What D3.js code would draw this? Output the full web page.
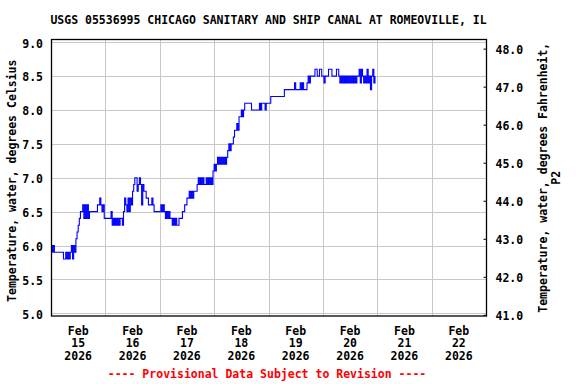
<!DOCTYPE html>
<html>
<head>
<meta charset="utf-8">
<script src="https://cdn.jsdelivr.net/npm/d3@7"></script>
<style>
  html, body { margin: 0; padding: 0; background: #fff; }
  svg { display: block; }
  text { font-family: "DejaVu Sans Mono", "Liberation Mono", monospace; font-weight: bold; font-size: 11.5px; }
</style>
</head>
<body>
<svg id="chart" width="576" height="384"></svg>
<script>
// ---- data ----
const titleText = "USGS 05536995 CHICAGO SANITARY AND SHIP CANAL AT ROMEOVILLE, IL";
const leftAxisTitle = "Temperature, water, degrees Celsius";
const rightAxisTitle = ["Temperature, water, degrees Fahrenheit,", "P2"];
const footerText = "---- Provisional Data Subject to Revision ----";

const seriesStart = "2026-02-15T00:00:00Z";
const stepMinutes = 30;
const tempC = [
  6.0,5.9,6.0,5.9,5.9,5.9,5.9,5.9,5.9,5.9,
  5.9,5.8,5.8,5.9,5.8,5.9,5.8,5.9,6.0,5.8,
  6.0,5.9,6.1,6.2,6.3,6.4,6.5,6.5,6.6,6.4,
  6.6,6.4,6.6,6.4,6.5,6.5,6.5,6.5,6.5,6.5,
  6.5,6.6,6.6,6.7,6.6,6.5,6.6,6.4,6.4,6.4,
  6.4,6.4,6.4,6.5,6.3,6.4,6.3,6.4,6.3,6.4,
  6.3,6.4,6.4,6.3,6.5,6.7,6.6,6.5,6.7,6.5,
  6.7,6.6,6.8,6.9,7.0,7.0,6.8,6.9,7.0,6.9,
  6.6,6.9,6.8,6.8,6.7,6.7,6.6,6.6,6.6,6.7,
  6.6,6.5,6.5,6.5,6.5,6.5,6.5,6.6,6.5,6.6,
  6.5,6.4,6.5,6.4,6.5,6.4,6.4,6.3,6.4,6.3,
  6.4,6.3,6.3,6.4,6.4,6.4,6.5,6.5,6.6,6.6,
  6.7,6.7,6.8,6.7,6.8,6.7,6.8,6.8,6.8,6.9,
  7.0,6.9,7.0,6.9,7.0,6.9,6.9,7.0,6.9,7.0,
  6.9,7.0,6.9,7.1,7.2,7.1,7.2,7.3,7.2,7.3,
  7.2,7.3,7.2,7.3,7.2,7.3,7.4,7.5,7.4,7.5,
  7.5,7.6,7.7,7.7,7.8,7.7,7.9,7.9,8.0,7.9,
  8.0,8.1,8.1,8.1,8.1,8.1,8.1,8.0,8.0,8.0,
  8.0,8.0,8.0,8.0,8.1,8.0,8.1,8.1,8.1,8.0,
  8.1,8.1,8.1,8.1,8.2,8.2,8.2,8.2,8.2,8.2,
  8.2,8.2,8.2,8.2,8.2,8.2,8.3,8.3,8.3,8.3,
  8.3,8.3,8.3,8.3,8.3,8.4,8.3,8.3,8.3,8.3,
  8.4,8.3,8.4,8.3,8.3,8.3,8.4,8.5,8.4,8.5,
  8.5,8.5,8.5,8.6,8.6,8.5,8.5,8.6,8.6,8.5,
  8.5,8.4,8.5,8.5,8.5,8.6,8.6,8.6,8.5,8.5,
  8.5,8.5,8.6,8.6,8.5,8.4,8.5,8.4,8.5,8.4,
  8.5,8.4,8.5,8.4,8.5,8.4,8.5,8.4,8.5,8.4,
  8.5,8.5,8.6,8.4,8.6,8.5,8.4,8.5,8.4,8.6,
  8.4,8.5,8.3,8.5,8.6,8.4,8.5
];

const celsiusTicks = [5.0, 5.5, 6.0, 6.5, 7.0, 7.5, 8.0, 8.5, 9.0];
const fahrenheitTicks = [41, 42, 43, 44, 45, 46, 47, 48];
const dayTicks = ["2026-02-16","2026-02-17","2026-02-18","2026-02-19","2026-02-20","2026-02-21","2026-02-22"];
const dayLabels = [
  ["Feb","15","2026"],["Feb","16","2026"],["Feb","17","2026"],["Feb","18","2026"],
  ["Feb","19","2026"],["Feb","20","2026"],["Feb","21","2026"],["Feb","22","2026"]
];
const dayLabelDates = ["2026-02-15T12:00:00Z","2026-02-16T12:00:00Z","2026-02-17T12:00:00Z","2026-02-18T12:00:00Z",
  "2026-02-19T12:00:00Z","2026-02-20T12:00:00Z","2026-02-21T12:00:00Z","2026-02-22T12:00:00Z"];
const xDomain = ["2026-02-15T00:00:00Z", "2026-02-23T00:00:00Z"];
const cDomain = [4.96, 9.04];
const fDomain = [40.97, 48.24];

// ---- layout ----
const L = 51, R = 486, T = 39.5, B = 316;
const svg = d3.select("#chart");

const x = d3.scaleUtc().domain(xDomain.map(d => new Date(d))).range([L, R]);
const yC = d3.scaleLinear().domain(cDomain).range([B, T]);
const yF = d3.scaleLinear().domain(fDomain).range([B, T]);

const t0 = new Date(seriesStart).getTime();
const data = tempC.map((v, i) => ({ t: new Date(t0 + i * stepMinutes * 60000), v }));

// gridlines
const grid = svg.append("g").attr("stroke", "#c8c8c8").attr("stroke-width", 1);
grid.selectAll("line.h").data(celsiusTicks).join("line")
  .attr("x1", L).attr("x2", R)
  .attr("y1", d => Math.round(yC(d)) + 0.5).attr("y2", d => Math.round(yC(d)) + 0.5);
grid.selectAll("line.v").data(dayTicks).join("line")
  .attr("y1", T).attr("y2", B)
  .attr("x1", d => Math.round(x(new Date(d + "T00:00:00Z"))) + 0.5)
  .attr("x2", d => Math.round(x(new Date(d + "T00:00:00Z"))) + 0.5);

// data line
const line = d3.line().x(d => x(d.t)).y(d => yC(d.v)).curve(d3.curveStepAfter);
svg.append("path").datum(data)
  .attr("fill", "none").attr("stroke", "#0000ff").attr("stroke-width", 1.1)
  .attr("d", line);

// frame
svg.append("rect").attr("x", L + 0.5).attr("y", T).attr("width", R - L).attr("height", B - T)
  .attr("fill", "none").attr("stroke", "#000").attr("stroke-width", 1.3);

// left axis (Celsius)
const leftAxis = d3.axisLeft(yC).tickValues(celsiusTicks).tickFormat(d3.format(".1f")).tickSize(0).tickPadding(8);
const gl = svg.append("g").attr("transform", `translate(${L},0)`).call(leftAxis);
gl.select(".domain").remove();
gl.selectAll("text").attr("font-family", null).attr("font-size", null).attr("fill", "#000").attr("dy", "0.42em");

// right axis (Fahrenheit)
const rightAxis = d3.axisRight(yF).tickValues(fahrenheitTicks).tickFormat(d3.format(".1f")).tickSizeInner(-3).tickSizeOuter(0).tickPadding(9);
const gr = svg.append("g").attr("transform", `translate(${R + 0.5},0)`).call(rightAxis);
gr.select(".domain").remove();
gr.selectAll("line").attr("stroke", "#000");
gr.selectAll("text").attr("font-family", null).attr("font-size", null).attr("fill", "#000").attr("dy", "0.42em");

// bottom day labels
const gx = svg.append("g");
dayLabels.forEach((lines, i) => {
  const cx = x(new Date(dayLabelDates[i]));
  const tx = gx.append("text").attr("text-anchor", "middle").attr("fill", "#000");
  lines.forEach((s, j) => {
    tx.append("tspan").attr("x", cx).attr("y", 334.5 + j * 12.8).text(s);
  });
});

// title
svg.append("text").attr("x", (L + R) / 2).attr("y", 24).attr("text-anchor", "middle").attr("fill", "#000").text(titleText);

// left axis title
svg.append("text").attr("transform", `translate(16,${(T + B) / 2 + 3}) rotate(-90)`)
  .attr("text-anchor", "middle").attr("fill", "#000").text(leftAxisTitle);

// right axis title
rightAxisTitle.forEach((s, j) => {
  svg.append("text").attr("transform", `translate(${547 + j * 13},${(T + B) / 2}) rotate(-90)`)
    .attr("text-anchor", "middle").attr("fill", "#000").text(s);
});

// footer
svg.append("text").attr("x", 267).attr("y", 377.5).attr("text-anchor", "middle").attr("fill", "#ff0000").text(footerText);
</script>
</body>
</html>
